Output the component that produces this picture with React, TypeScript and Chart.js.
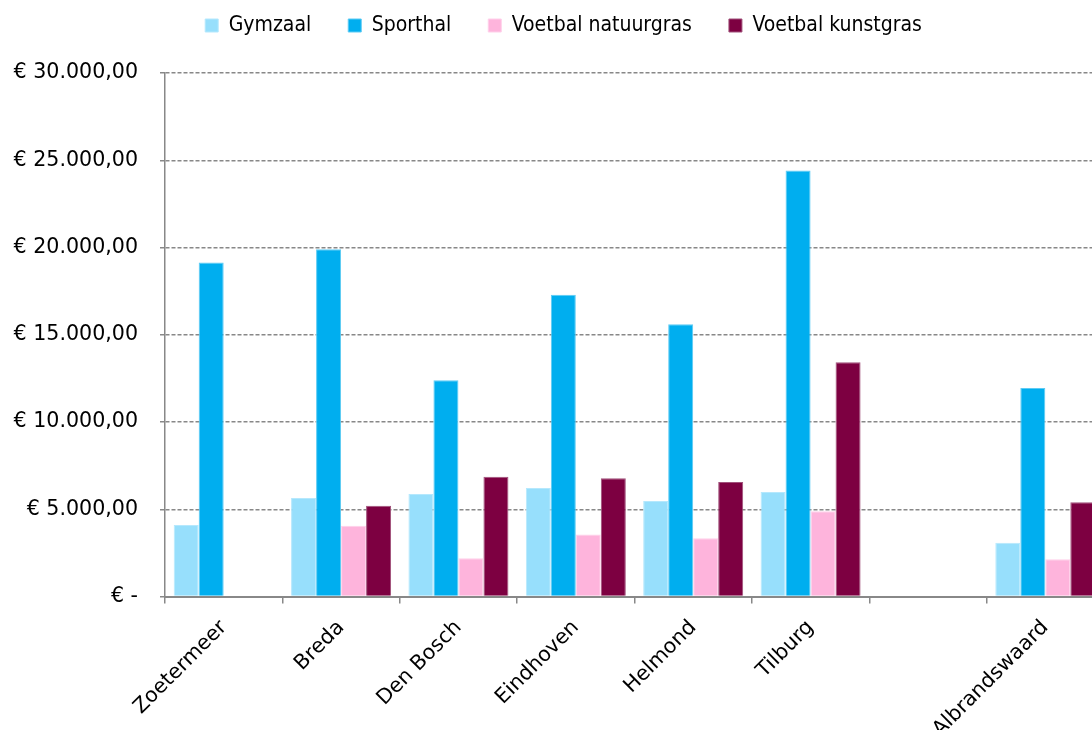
import React, { useEffect, useRef } from 'react';
import { Chart, registerables } from 'chart.js';

Chart.register(...registerables);

const categories = ['Zoetermeer', 'Breda', 'Den Bosch', 'Eindhoven', 'Helmond', 'Tilburg', '', 'Albrandswaard'];
const seriesNames = ['Gymzaal', 'Sporthal', 'Voetbal natuurgras', 'Voetbal kunstgras'];
const gymzaal = [4100, 5650, 5880, 6220, 5480, 5990, null, 3090];
const sporthal = [19140, 19900, 12400, 17300, 15600, 24420, null, 11950];
const natuurgras = [null, 4060, 2200, 3550, 3340, 4890, null, 2140];
const kunstgras = [null, 5200, 6870, 6780, 6560, 13430, null, 5400];
const yMin = 0;
const yMax = 30000;
const yStep = 5000;

const fillColors = ['#97dffc', '#00aeef', '#feb4dc', '#7d0041'];
const edgeColors = ['#b5e8fd', '#5ccbf4', '#ffd0ea', '#a0507a'];

function formatEuro(v: number): string {
  if (v === 0) return '€ -';
  const s = String(Math.round(v)).replace(/\B(?=(\d{3})+(?!\d))/g, '.');
  return '€ ' + s + ',00';
}

const legendMargin = {
  id: 'legendMargin',
  beforeInit(chart: any) {
    const legend = chart.legend;
    if (!legend) return;
    const origFit = legend.fit;
    legend.fit = function fit() {
      origFit.bind(legend)();
      this.height += 27;
    };
  },
};

const unclipYLabels = {
  id: 'unclipYLabels',
  afterLayout(chart: any) {
    const y = chart.scales.y;
    if (y) y.left = 0;
  },
};

export default function App() {
  const ref = useRef<HTMLCanvasElement | null>(null);
  useEffect(() => {
    if (!ref.current) return;
    const values = [gymzaal, sporthal, natuurgras, kunstgras];
    const chart = new Chart(ref.current, {
      type: 'bar',
      data: {
        labels: categories,
        datasets: seriesNames.map((name, i) => ({
          label: name,
          data: values[i],
          backgroundColor: fillColors[i],
          borderColor: edgeColors[i],
          borderWidth: 1,
          barPercentage: 1,
          categoryPercentage: 0.852,
        })),
      },
      options: {
        animation: false,
        responsive: false,
        devicePixelRatio: 1,
        layout: { padding: { top: -22, left: 23, right: 0, bottom: 0 } },
        plugins: {
          tooltip: { enabled: false },
          legend: {
            position: 'top',
            labels: {
              boxWidth: 13,
              boxHeight: 13,
              padding: 37,
              color: '#000',
              font: { family: 'DejaVu Sans Condensed', size: 21 },
            },
          },
        },
        scales: {
          x: {
            offset: true,
            grid: {
              display: true,
              offset: true,
              drawOnChartArea: false,
              drawTicks: true,
              tickLength: 7,
              color: '#888',
              lineWidth: 1.5,
            },
            border: { display: true, color: '#888', width: 2 },
            ticks: {
              autoSkip: false,
              maxRotation: 45,
              minRotation: 45,
              color: '#000',
              padding: 12,
              font: { family: 'DejaVu Sans', size: 20.6 },
            },
          },
          y: {
            min: yMin,
            max: yMax,
            afterFit(scale: any) {
              scale.width = 142;
            },
            grid: {
              color: '#888',
              lineWidth: 1.5,
              drawTicks: true,
              tickLength: 5,
              tickBorderDash: [],
            },
            border: { display: true, color: '#888', width: 1.5, dash: [4, 2] },
            ticks: {
              stepSize: yStep,
              color: '#000',
              padding: 22,
              font: { family: 'DejaVu Sans', size: 20.6 },
              callback: (v: any) => formatEuro(Number(v)),
            },
          },
        },
      },
      plugins: [legendMargin, unclipYLabels],
    } as any);
    return () => chart.destroy();
  }, []);
  return (
    <div style={{ position: 'absolute', left: 0, top: 0, width: 1092, height: 730, overflow: 'hidden', background: '#fff' }}>
      <canvas ref={ref} width={1104} height={754} style={{ display: 'block', width: 1104, height: 754 }} />
    </div>
  );
}
